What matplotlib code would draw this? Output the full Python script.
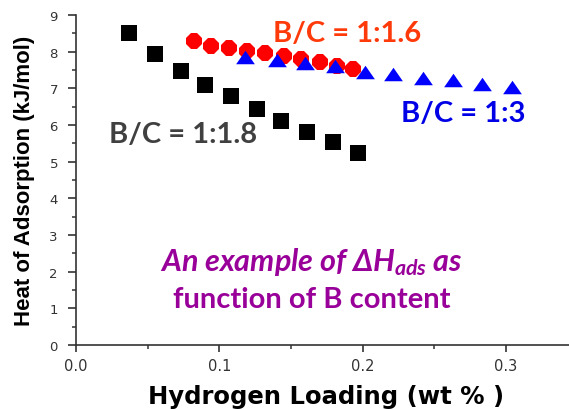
import matplotlib
matplotlib.use("Agg")
import matplotlib.pyplot as plt
from matplotlib.path import Path
from matplotlib.ticker import MultipleLocator

# Heat of adsorption vs hydrogen loading for three B/C ratios
load_18 = [0.037, 0.055, 0.073, 0.090, 0.108, 0.126, 0.143, 0.161, 0.179, 0.197]
heat_18 = [8.50, 7.94, 7.48, 7.10, 6.79, 6.44, 6.12, 5.82, 5.53, 5.23]

load_16 = [0.082, 0.094, 0.107, 0.119, 0.132, 0.145, 0.157, 0.170, 0.182, 0.193]
heat_16 = [8.30, 8.16, 8.10, 8.03, 7.96, 7.88, 7.81, 7.71, 7.62, 7.53]

load_3 = [0.118, 0.140, 0.160, 0.181, 0.202, 0.221, 0.242, 0.263, 0.283, 0.304]
heat_3 = [7.86, 7.78, 7.68, 7.60, 7.44, 7.39, 7.27, 7.23, 7.12, 7.05]

x_ticks = [0.0, 0.1, 0.2, 0.3]
x_tick_labels = ["0.0", "0.1", "0.2", "0.3"]
y_ticks = list(range(0, 10))

plt.rcParams["mathtext.fontset"] = "custom"
plt.rcParams["mathtext.it"] = "Lato:italic:bold"
plt.rcParams["mathtext.rm"] = "Lato:bold"

W, H = 569, 410
fig = plt.figure(figsize=(W / 100, H / 100), dpi=100)
ax = fig.add_axes([76 / W, 64 / H, (W - 76) / W, 330 / H])

# wide, flat triangle marker
tri = Path([(-1, -0.72), (1, -0.72), (0, 0.72), (-1, -0.72)],
           [Path.MOVETO, Path.LINETO, Path.LINETO, Path.CLOSEPOLY])

ax.plot(load_18, heat_18, ls="none", marker="s", ms=11, color="black",
        mew=0, zorder=3)
ax.plot(load_16, heat_16, ls="none", marker="8", ms=12, color="#ff0000",
        mew=0, zorder=3)
ax.plot(load_3, heat_3, ls="none", marker=tri, ms=13.5, color="#0000ff",
        mew=0, zorder=4)

ax.set_xlim(0, (W - 76) / 1433)
ax.set_ylim(0, 9)
ax.set_xticks(x_ticks)
ax.set_xticklabels(x_tick_labels)
ax.set_yticks(y_ticks)
ax.xaxis.set_minor_locator(MultipleLocator(0.05))
ax.yaxis.set_minor_locator(MultipleLocator(0.5))

for side in ("top", "right"):
    ax.spines[side].set_visible(False)
for side in ("left", "bottom"):
    ax.spines[side].set_linewidth(1.2)
    ax.spines[side].set_color("#333333")

ax.tick_params(axis="y", which="major", direction="out", length=6, width=1.2,
               pad=7, labelsize=9.5, colors="#333333")
ax.tick_params(axis="x", which="major", direction="out", length=5, width=1.2,
               pad=4.5, labelsize=10.5, colors="#333333")
ax.tick_params(which="minor", direction="out", length=3, width=1.1,
               colors="#333333")
for lab in ax.get_xticklabels() + ax.get_yticklabels():
    lab.set_family("DejaVu Sans")

fig.text(25 / W, 1 - 181 / H, "Heat of Adsorption (kJ/mol)", rotation=90,
         ha="center", va="center", fontsize=16, fontweight="bold",
         family="Liberation Sans", color="black")
fig.text((142 + 510) / 2 / W, 1 - 404 / H, "Hydrogen Loading (wt % )",
         ha="center", va="baseline", fontsize=17.5, fontweight="bold",
         family="DejaVu Sans", color="black")

ann = dict(ha="center", va="baseline", fontsize=21, fontweight="bold",
           family="Lato")
fig.text(347 / W, 1 - 42 / H, "B/C = 1:1.6", color="#ff3a0a", **ann)
fig.text(463 / W, 1 - 121.5 / H, "B/C = 1:3", color="#0000e6", **ann)
fig.text(183.5 / W, 1 - 143 / H, "B/C = 1:1.8", color="#404040", **ann)

fig.text(311 / W, 1 - 271.5 / H, r"An example of Δ$H_{ads}$ as",
         color="#990099", ha="center", va="baseline", fontsize=22,
         fontweight="bold", fontstyle="italic", family="Lato")
fig.text(311.5 / W, 1 - 308.5 / H, "function of B content",
         color="#990099", **ann)

fig.savefig("out.png", dpi=100)
